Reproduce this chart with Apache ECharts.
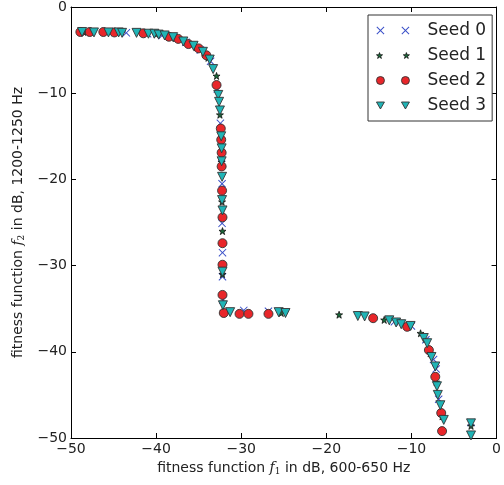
<!DOCTYPE html>
<html>
<head>
<meta charset="utf-8">
<script src="https://cdn.jsdelivr.net/npm/echarts@6/dist/echarts.min.js"></script>
<style>
html,body{margin:0;padding:0;background:#fff;}
#chart{width:504px;height:485px;}
</style>
</head>
<body>
<div id="chart"></div>
<script>
// ---- data ----
var seedNames = ['Seed 0', 'Seed 1', 'Seed 2', 'Seed 3'];
var xTicks = [-50, -40, -30, -20, -10, 0];
var yTicks = [-50, -40, -30, -20, -10, 0];

var seed0 = [
  [-48.2,-2.9],[-43.5,-3.0],[-41.0,-3.1],[-39.3,-3.3],[-36.5,-4.1],[-34.8,-5.0],[-33.6,-6.3],
  [-32.8,-9.5],[-32.45,-13.5],[-32.3,-17.5],[-32.25,-20.5],[-32.25,-25.1],[-32.2,-28.5],
  [-32.2,-31.3],[-32.15,-34.0],[-29.7,-35.2],[-26.8,-35.3],[-12.0,-36.5],[-10.0,-37.0],
  [-8.3,-38.6],[-7.4,-40.9],[-7.1,-42.0],[-6.8,-45.5],[-3.0,-48.2]
];
var seed1 = [
  [-48.5,-2.9],[-45.0,-2.95],[-40.0,-3.15],[-37.7,-3.6],[-35.3,-4.7],[-33.9,-5.9],[-32.9,-8.0],
  [-32.5,-12.5],[-32.3,-18.0],[-32.25,-22.6],[-32.2,-26.0],[-32.2,-31.0],[-32.1,-35.3],
  [-25.3,-35.5],[-18.5,-35.7],[-13.2,-36.3],[-8.93,-37.85],[-7.8,-40.2],[-7.1,-43.5],
  [-6.4,-47.5],[-3.0,-48.6]
];
var seed2 = [
  [-48.9,-2.9],[-47.8,-2.9],[-46.2,-2.9],[-44.9,-2.95],[-41.5,-3.05],[-38.5,-3.45],[-37.4,-3.7],
  [-36.2,-4.3],[-35.0,-4.8],[-34.1,-5.6],[-32.9,-9.05],[-32.4,-14.1],[-32.35,-15.4],[-32.3,-16.9],
  [-32.3,-18.5],[-32.25,-21.3],[-32.2,-24.4],[-32.2,-27.4],[-32.2,-29.9],[-32.2,-33.4],
  [-32.05,-35.5],[-30.2,-35.6],[-29.15,-35.6],[-26.8,-35.6],[-14.5,-36.1],[-10.5,-37.1],
  [-7.95,-39.8],[-7.2,-42.9],[-6.5,-47.1],[-6.4,-49.2]
];
var seed3 = [
  [-48.7,-2.9],[-47.3,-2.95],[-45.6,-2.95],[-44.4,-2.95],[-44.0,-3.0],[-42.3,-3.0],[-40.9,-3.1],
  [-40.2,-3.1],[-39.7,-3.2],[-39.0,-3.3],[-38.0,-3.5],[-36.8,-4.0],[-35.6,-4.5],[-34.5,-5.2],
  [-33.7,-6.1],[-33.3,-7.2],[-32.7,-10.2],[-32.6,-11.0],[-32.5,-12.0],[-32.35,-15.0],
  [-32.3,-16.4],[-32.3,-17.9],[-32.25,-19.7],[-32.25,-22.4],[-32.2,-23.6],[-32.2,-30.7],
  [-32.15,-34.6],[-31.3,-35.4],[-25.6,-35.4],[-24.8,-35.5],[-16.3,-35.85],[-15.5,-35.9],
  [-12.6,-36.35],[-11.8,-36.6],[-11.2,-36.8],[-10.1,-37.0],[-8.55,-38.4],[-8.15,-39.0],
  [-7.65,-40.6],[-7.2,-41.7],[-7.0,-44.0],[-6.9,-45.0],[-6.6,-46.2],[-6.2,-47.9],
  [-3.0,-48.3],[-3.0,-49.7]
];
var seriesData = [seed0, seed1, seed2, seed3];

// ---- styling ----
var FONT = 'DejaVu Sans';
var xPath = 'path://M0,0.7L0.7,0L4,3.3L7.3,0L8,0.7L4.7,4L8,7.3L7.3,8L4,4.7L0.7,8L0,7.3L3.3,4Z';
var starPath = 'path://M4,0L4.94,2.71L7.8,2.76L5.52,4.49L6.35,7.24L4,5.6L1.65,7.24L2.48,4.49L0.2,2.76L3.06,2.71Z';
var triPath = 'path://M0,0L8,0L4,7Z';
var symbols = [xPath, starPath, 'circle', triPath];
var sizes = [8, 7, 9, 9];
var styles = [
  {color:'#3a50c8', borderWidth:0, opacity:1},
  {color:'#1a6a3a', borderColor:'#111', borderWidth:0.8, opacity:1},
  {color:'#e8262a', borderColor:'#333', borderWidth:0.9, opacity:1},
  {color:'#20b4b6', borderColor:'#333', borderWidth:0.9, opacity:1}
];
var legendIcons = [
  'path://M0,0.7L0.7,0L4,3.3L7.3,0L8,0.7L4.7,4L8,7.3L7.3,8L4,4.7L0.7,8L0,7.3L3.3,4Z M25,0.7L25.7,0L29,3.3L32.3,0L33,0.7L29.7,4L33,7.3L32.3,8L29,4.7L25.7,8L25,7.3L28.3,4Z',
  'path://M4,1L4.7,3L6.85,3.07L5.14,4.37L5.76,6.43L4,5.2L2.24,6.43L2.86,4.37L1.15,3.07L3.3,3L4,1Z M29,1L29.7,3L31.85,3.07L30.14,4.37L30.76,6.43L29,5.2L27.24,6.43L27.86,4.37L26.15,3.07L28.3,3L29,1Z',
  'path://M0,4A4,4 0 1,0 8,4A4,4 0 1,0 0,4Z M25,4A4,4 0 1,0 33,4A4,4 0 1,0 25,4Z',
  'path://M0,0L8,0L4,7Z M25,0L33,0L29,7Z'
];
var legendItemSizes = [[33,8],[33,6],[33,8],[33,7]];

function fmt(v){ return String(v).replace('-', '\u2212'); }

var axisCommon = {
  type:'value', min:-50, max:0, interval:10,
  axisLine:{show:true, onZero:false, lineStyle:{color:'#000', width:1}},
  axisTick:{show:true, inside:true, length:5, lineStyle:{color:'#000', width:1}},
  splitLine:{show:false}
};

var richName = {
  n:{fontFamily:FONT, fontSize:14, color:'#222'},
  f:{fontFamily:'DejaVu Serif', fontStyle:'italic', fontSize:14, color:'#222'},
  s:{fontFamily:'DejaVu Serif', fontSize:9, color:'#222', padding:[8,0,0,0]}
};

var chart = echarts.init(document.getElementById('chart'), null, {renderer:'canvas'});
var option = {
  animation:false,
  backgroundColor:'#fff',
  grid:{left:71, right:2, top:7, bottom:47, containLabel:false},
  legend:{
    orient:'vertical', left:368, top:15,
    backgroundColor:'#fff', borderColor:'#333', borderWidth:1, borderRadius:0,
    padding:[7,6,7,8], itemGap:8, itemWidth:33, itemHeight:8,
    textStyle:{fontFamily:FONT, fontSize:17, color:'#222', lineHeight:17, padding:[0,0,0,13]},
    data: seedNames.map(function(n,i){
      return {name:n, icon:legendIcons[i],
        itemStyle:{color:styles[i].color, borderColor:styles[i].borderColor || styles[i].color,
          borderWidth:styles[i].borderWidth, opacity:1}};
    })
  },
  xAxis:[
    Object.assign({}, axisCommon, {
      position:'bottom',
      axisLabel:{show:true, margin:4, fontFamily:FONT, fontSize:14, color:'#222', formatter:fmt,
        customValues: xTicks},
      name:'{n|fitness function }{f|f}{s|1}{n| in dB, 600-650 Hz}',
      nameLocation:'middle', nameGap:21,
      nameTextStyle:{rich:richName}
    }),
    Object.assign({}, axisCommon, {position:'top', axisLabel:{show:false}})
  ],
  yAxis:[
    Object.assign({}, axisCommon, {
      position:'left',
      axisLabel:{show:true, margin:4, fontFamily:FONT, fontSize:14, color:'#222', formatter:fmt,
        customValues: yTicks},
      name:'{n|fitness function }{f|f}{s|2}{n| in dB, 1200-1250 Hz}',
      nameLocation:'middle', nameGap:44,
      nameTextStyle:{rich:richName}
    }),
    Object.assign({}, axisCommon, {position:'right', axisLabel:{show:false}})
  ],
  series: seriesData.map(function(d,i){
    return {
      name:seedNames[i], type:'scatter', xAxisIndex:0, yAxisIndex:0,
      symbol:symbols[i], symbolSize:sizes[i],
      itemStyle:styles[i],
      data:d, z:2+i,
      emphasis:{disabled:true}
    };
  })
};
chart.setOption(option);
</script>
</body>
</html>
